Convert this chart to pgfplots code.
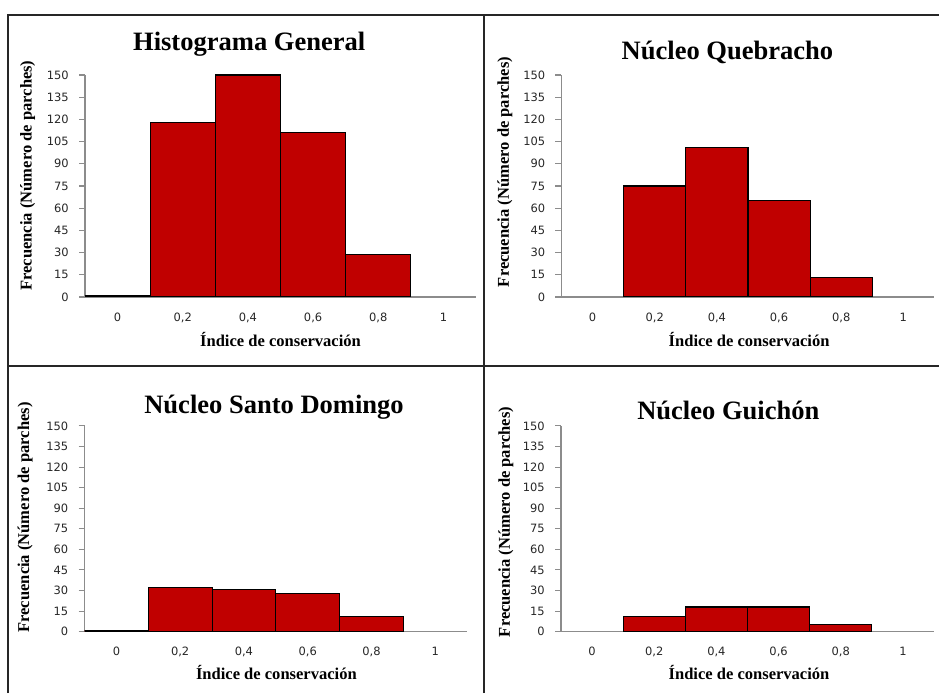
\documentclass[border=0pt]{standalone}
\usepackage{pgfplots}
\pgfplotsset{compat=1.18}
\usepackage{fontspec}
\setmainfont{Liberation Serif}
\newfontfamily\tickfont{DejaVu Sans}
\definecolor{barred}{HTML}{C00000}
\definecolor{axgray}{HTML}{8C8C8C}
\pgfplotsset{
  hist/.style={
    scale only axis,
    anchor=south west,
    xmin=-0.5, xmax=5.5, ymin=0, ymax=150,
    enlargelimits=false,
    axis x line*=bottom, axis y line*=left,
    axis line style={axgray, line width=0.8pt, -},
    xtick={0,...,5},
    xticklabels={0,{0,2},{0,4},{0,6},{0,8},1},
    ytick={0,15,...,150},
    tick align=outside,
    major tick length=4.5pt,
    ytick style={axgray, line width=0.8pt},
    xtick style={draw=none},
    /pgf/number format/assume math mode=true,
    ticklabel style={font=\tickfont\fontsize{8.6}{10}\selectfont, text=black!85},
    yticklabel style={anchor=east, inner sep=0pt, xshift=-7.5pt},
    xticklabel style={anchor=base, inner sep=0pt},
    every axis title/.style={font=\bfseries\fontsize{19.9}{23}\selectfont, anchor=base},
    label style={font=\bfseries\fontsize{12.4}{14}\selectfont},
    xlabel={Índice de conservación},
    ylabel={Frecuencia (Número de parches)},
    ybar, bar width=1, bar shift=0pt,
  },
  histbar/.style={fill=barred, draw=black, line width=0.8pt},
}
\begin{document}
\begin{tikzpicture}
\useasboundingbox (0,0) rectangle (704.25pt,519.75pt);
\draw[line width=1.4pt, black!85] (5.8pt,0pt) -- (5.8pt,508.5pt) -- (704.25pt,508.5pt);
\draw[line width=1.4pt, black!85] (363.2pt,0pt) -- (363.2pt,508.5pt);
\draw[line width=1.4pt, black!85] (5.8pt,245.5pt) -- (704.25pt,245.5pt);

% Panel 1
\begin{axis}[hist, at={(63.75pt,297pt)}, width=293.25pt, height=166.5pt,
  title={Histograma General},
  title style={at={(axis description cs:0.42,1.1126)}},
  ylabel style={at={(axis description cs:-0.147,0.547)}, anchor=center},
  xlabel style={at={(axis description cs:0.5,-0.222)}, anchor=base},
  xticklabel style={yshift=-13.9pt}]
\addplot[histbar] coordinates {(0,1) (1,118) (2,150) (3,111) (4,29)};
\end{axis}

% Panel 2
\begin{axis}[hist, at={(421.1pt,297pt)}, width=279.75pt, height=166.5pt,
  title={Núcleo Quebracho},
  title style={at={(axis description cs:0.445,1.0676)}},
  ylabel style={at={(axis description cs:-0.152,0.563)}, anchor=center},
  xlabel style={at={(axis description cs:0.503,-0.222)}, anchor=base},
  xticklabel style={yshift=-13.9pt}]
\addplot[histbar] coordinates {(1,75) (2,101) (3,65) (4,13)};
\end{axis}

% Panel 3
\begin{axis}[hist, at={(63.4pt,46pt)}, width=286.9pt, height=154.3pt,
  title={Núcleo Santo Domingo},
  title style={at={(axis description cs:0.4954,1.0617)}},
  ylabel style={at={(axis description cs:-0.155,0.555)}, anchor=center},
  xlabel style={at={(axis description cs:0.5015,-0.232)}, anchor=base},
  xticklabel style={yshift=-13pt}]
\addplot[histbar] coordinates {(0,1) (1,32) (2,31) (3,28) (4,11)};
\end{axis}

% Panel 4
\begin{axis}[hist, at={(420.75pt,46pt)}, width=279.75pt, height=154.3pt,
  title={Núcleo Guichón},
  title style={at={(axis description cs:0.4485,1.0326)}},
  ylabel style={at={(axis description cs:-0.148,0.533)}, anchor=center},
  xlabel style={at={(axis description cs:0.504,-0.232)}, anchor=base},
  xticklabel style={yshift=-13pt}]
\addplot[histbar] coordinates {(1,11) (2,18) (3,18) (4,5)};
\end{axis}
\end{tikzpicture}
\end{document}
